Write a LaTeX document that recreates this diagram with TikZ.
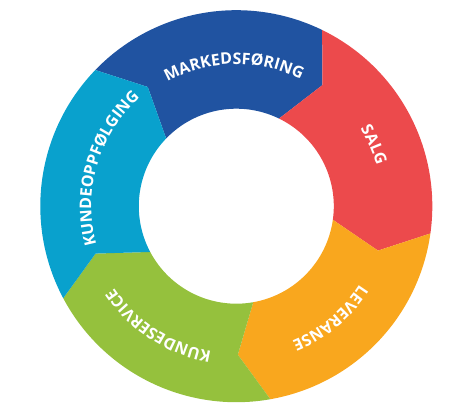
\documentclass[tikz,border=0pt]{standalone}
\usepackage{fontspec}
\setmainfont{Open Sans}
\usetikzlibrary{decorations.text}
\definecolor{cblue}{RGB}{32,83,161}
\definecolor{cred}{RGB}{236,74,76}
\definecolor{corange}{RGB}{249,167,30}
\definecolor{cgreen}{RGB}{149,193,61}
\definecolor{ccyan}{RGB}{9,161,205}
\newcommand\labfont{\fontsize{16}{19}\selectfont\bfseries}
\newcommand\ringlabel[3]{%
  \path[decorate, decoration={text along path, text align=center, text color=white,
    text={|\labfont|#3}}]
    (#1+45:#2) arc[start angle=#1+45, end angle=#1-45, radius=#2];}
\tikzset{segment/.style={fill=#1}}
\begin{document}
\begin{tikzpicture}
\useasboundingbox (0,0) rectangle (466pt,417pt);
\begin{scope}[shift={(236.3pt,210.8pt)}]
\foreach \a/\c in {136/cblue,64/cred,-8/corange,-80/cgreen,-152/ccyan} {
  \path[segment=\c] (\a:196pt) arc[start angle=\a, end angle=\a-72, radius=196pt]
    -- (\a-81.4:148.5pt) -- (\a-72:97.5pt)
    arc[start angle=\a-72, end angle=\a, radius=97.5pt]
    -- (\a-9.4:148.5pt) -- cycle;
}
\ringlabel{91}{142pt}{MARKEDSFØRING}
\ringlabel{24}{146pt}{SALG}
\ringlabel{-50}{146pt}{LEVERANSE}
\ringlabel{-123}{147pt}{KUNDESERVICE}
\ringlabel{163.5}{145pt}{KUNDEOPPFØLGING}
\end{scope}
\end{tikzpicture}
\end{document}
